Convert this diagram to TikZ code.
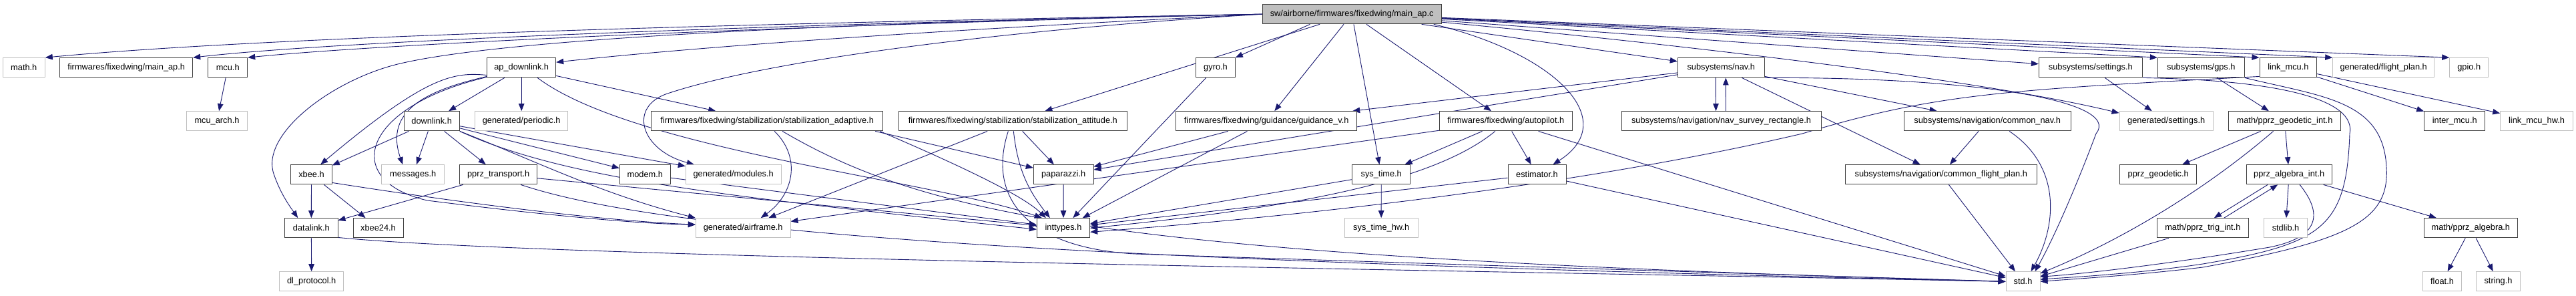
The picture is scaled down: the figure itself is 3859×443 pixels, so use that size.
\documentclass[tikz,border=0pt]{standalone}
\usepackage{fontspec}
\setmainfont{Liberation Sans}
\usetikzlibrary{arrows.meta,backgrounds}
\definecolor{edgec}{HTML}{191970}
\definecolor{darkb}{HTML}{404040}
\definecolor{lightb}{HTML}{BFBFBF}
\definecolor{rootf}{HTML}{BFBFBF}
\begin{document}
\begin{tikzpicture}[x=1pt,y=-1pt,
  box/.style={draw, fill=white, line width=1pt, minimum height=29.3pt, inner sep=0pt, font=\fontsize{12.8}{15}\selectfont, text=black},
  dk/.style={box, draw=darkb},
  lt/.style={box, draw=lightb},
  rt/.style={box, draw=darkb, fill=rootf},
  e/.style={draw=edgec, line width=0.9pt, -{Triangle[length=11pt,width=8.5pt]}}]
\useasboundingbox (0,0) rectangle (3859,443);
% row 0
\node[rt, minimum width=268.3pt] (root) at (2025.15,21.2) {sw/airborne/firmwares/fixedwing/main\_ap.c};
% row 1
\node[lt, minimum width=63pt] (math) at (35.8,101.3) {math.h};
\node[dk, minimum width=199pt] (mainaph) at (189.2,101.3) {firmwares/fixedwing/main\_ap.h};
\node[dk, minimum width=59pt] (mcu) at (341.2,101.3) {mcu.h};
\node[dk, minimum width=103pt] (apdl) at (781.2,101.3) {ap\_downlink.h};
\node[dk, minimum width=58.6pt] (gyro) at (1821,101.3) {gyro.h};
\node[dk, minimum width=130pt] (nav) at (2578.3,101.3) {subsystems/nav.h};
\node[dk, minimum width=155pt] (settings) at (3131.8,101.3) {subsystems/settings.h};
\node[dk, minimum width=130pt] (gps) at (3297.3,101.3) {subsystems/gps.h};
\node[dk, minimum width=85.7pt] (linkmcu) at (3427.85,101.3) {link\_mcu.h};
\node[lt, minimum width=152pt] (flightplan) at (3570.7,101.3) {generated/flight\_plan.h};
\node[lt, minimum width=58pt] (gpio) at (3698.7,101.3) {gpio.h};
% row 2
\node[lt, minimum width=91.4pt] (mcuarch) at (325,181.3) {mcu\_arch.h};
\node[dk, minimum width=83.3pt] (downlink) at (646.65,181.3) {downlink.h};
\node[lt, minimum width=139pt] (periodic) at (781.2,181.3) {generated/periodic.h};
\node[dk, minimum width=347pt] (stabad) at (1149.2,181.3) {firmwares/fixedwing/stabilization/stabilization\_adaptive.h};
\node[dk, minimum width=341.3pt] (stabatt) at (1517.35,181.3) {firmwares/fixedwing/stabilization/stabilization\_attitude.h};
\node[dk, minimum width=271pt] (guidv) at (1897.2,181.3) {firmwares/fixedwing/guidance/guidance\_v.h};
\node[dk, minimum width=199pt] (autopilot) at (2255.8,181.3) {firmwares/fixedwing/autopilot.h};
\node[dk, minimum width=299pt] (navsurvey) at (2578.5,181.3) {subsystems/navigation/nav\_survey\_rectangle.h};
\node[dk, minimum width=249.7pt] (commonnav) at (2977.15,181.3) {subsystems/navigation/common\_nav.h};
\node[lt, minimum width=140.3pt] (gensettings) at (3245.15,181.3) {generated/settings.h};
\node[dk, minimum width=168.4pt] (geoint) at (3422.5,181.3) {math/pprz\_geodetic\_int.h};
\node[dk, minimum width=91pt] (intermcu) at (3677.2,181.3) {inter\_mcu.h};
\node[lt, minimum width=108.6pt] (linkmcuhw) at (3800,181.3) {link\_mcu\_hw.h};
% row 3
\node[dk, minimum width=61.6pt] (xbee) at (466.5,261.3) {xbee.h};
\node[lt, minimum width=94pt] (messages) at (618.7,261.3) {messages.h};
\node[dk, minimum width=116pt] (pprztr) at (746.7,261.3) {pprz\_transport.h};
\node[dk, minimum width=76pt] (modem) at (966.3,261.3) {modem.h};
\node[lt, minimum width=142.7pt] (modules) at (1098.65,261.3) {generated/modules.h};
\node[dk, minimum width=89.7pt] (paparazzi) at (1593.15,261.3) {paparazzi.h};
\node[dk, minimum width=87pt] (systime) at (2069.2,261.3) {sys\_time.h};
\node[dk, minimum width=87pt] (estimator) at (2302.5,261.3) {estimator.h};
\node[dk, minimum width=287pt] (commonfp) at (2907.8,261.3) {subsystems/navigation/common\_flight\_plan.h};
\node[dk, minimum width=115pt] (geodetic) at (3233.2,261.3) {pprz\_geodetic.h};
\node[dk, minimum width=128.3pt] (algint) at (3429.15,261.3) {pprz\_algebra\_int.h};
% row 4
\node[dk, minimum width=79.3pt] (datalink) at (466.35,341.3) {datalink.h};
\node[dk, minimum width=75pt] (xbee24) at (566.5,341.3) {xbee24.h};
\node[lt, minimum width=141.7pt] (airframe) at (1113.15,341.3) {generated/airframe.h};
\node[dk, minimum width=79.4pt] (inttypes) at (1593,341.3) {inttypes.h};
\node[lt, minimum width=109.7pt] (systimehw) at (2069.15,341.3) {sys\_time\_hw.h};
\node[dk, minimum width=137.7pt] (trigint) at (3299.85,341.3) {math/pprz\_trig\_int.h};
\node[lt, minimum width=64.6pt] (stdlib) at (3424,341.3) {stdlib.h};
\node[dk, minimum width=140.7pt] (alg) at (3701.35,341.3) {math/pprz\_algebra.h};
% row 5
\node[lt, minimum width=96pt] (dlproto) at (466.7,421.3) {dl\_protocol.h};
\node[lt, minimum width=51pt] (std) at (3030.5,421.3) {std.h};
\node[lt, minimum width=57.6pt] (float) at (3658.5,421.3) {float.h};
\node[lt, minimum width=65.6pt] (string) at (3742.5,421.3) {string.h};

\begin{pgfonlayer}{background}
\fill[white] (0,0) rectangle (3859,443);
% ---- edges from root
\draw[e] (root.west) .. controls (1100,35) and (400,55) .. (math.north east);
\draw[e] (root.west) .. controls (1100,38) and (500,62) .. (mainaph.north east);
\draw[e] (root.west) .. controls (1100,40) and (550,68) .. (mcu.north east);
\draw[e] (root.west) .. controls (1300,50) and (1000,75) .. ([yshift=-7pt]apdl.north east);
\draw[e] (root.west) .. controls (1200,35) and (750,60) .. (600,95) .. controls (500,118) and (390,200) .. (410,260) .. controls (420,290) and (435,310) .. ([xshift=20pt]datalink.north west);
\draw[e] (root.west) .. controls (1500,45) and (1150,90) .. (1000,140) .. controls (940,160) and (960,225) .. ([xshift=13pt]modules.north west);
\draw[e] (root) -- (stabatt);
\draw[e] ([xshift=72pt]root.south west) -- (gyro.north east);
\draw[e] (root) -- (guidv);
\draw[e] (root) -- (systime);
\draw[e] (root) -- (autopilot);
\draw[e] ([xshift=-12pt]root.south east) .. controls (2330,80) and (2430,180) .. ([xshift=-20pt]estimator.north east);
\draw[e] (root) -- (nav);
\draw[e] (root) -- (settings);
\draw[e] ([yshift=-12pt]root.east) .. controls (2450,60) and (2950,115) .. ([yshift=-3pt]gensettings.north west);
\draw[e] (root) -- (gps.north west);
\draw[e] (root) -- (linkmcu.north west);
\draw[e] (root) -- (flightplan.north west);
\draw[e] (root) -- (gpio.north west);
% ---- mcu
\draw[e] (mcu) -- (mcuarch);
% ---- ap_downlink
\draw[e] (apdl) -- (downlink);
\draw[e] (apdl) -- (periodic);
\draw[e] ([yshift=4pt]apdl.south west) .. controls (680,108) and (640,112) .. ([xshift=45pt]xbee.north west);
\draw[e] ([yshift=2pt]apdl.south west) .. controls (640,135) and (575,165) .. ([xshift=32pt]messages.north west);
\draw[e] ([yshift=1pt]apdl.south west) .. controls (540,160) and (510,270) .. (640,300) .. controls (800,320) and (950,335) .. ([yshift=-10pt]airframe.north west);
\draw[e] ([yshift=3pt]apdl.south east) -- ([xshift=97pt]stabad.north west);
\draw[e] ([xshift=-28pt]apdl.south east) .. controls (950,225) and (1400,270) .. ([xshift=8pt]inttypes.north west);
% ---- downlink
\draw[e] (downlink) -- (xbee);
\draw[e] (downlink) -- (messages);
\draw[e] (downlink) -- (pprztr);
\draw[e] (downlink) -- (modem);
\draw[e] (downlink) -- (modules);
\draw[e] (downlink.south east) .. controls (800,240) and (900,290) .. (airframe.north west);
\draw[e] (downlink.south east) .. controls (850,270) and (1100,295) .. ([yshift=-2pt]inttypes.west);
% ---- xbee, datalink, transport, modem
\draw[e] (xbee) -- (datalink);
\draw[e] (xbee) -- (xbee24);
\draw[e] ([yshift=3pt]xbee.south east) .. controls (700,305) and (900,330) .. ([yshift=-10pt]airframe.north west);
\draw[e] (datalink) -- (dlproto);
\draw[e] ([yshift=1pt]datalink.south east) .. controls (800,385) and (2200,405) .. (std.west);
\draw[e] (pprztr) -- (datalink);
\draw[e] ([xshift=-25pt]pprztr.south east) .. controls (1000,350) and (1600,390) .. (std.west);
\draw[e] (pprztr) -- (inttypes);
\draw[e] (modem) -- (inttypes);
% ---- stabilization
\draw[e] ([xshift=-12pt]stabad.south east) -- ([yshift=-5pt]paparazzi.north west);
\draw[e] ([xshift=-5pt]stabad.south east) .. controls (1420,240) and (1530,290) .. ([xshift=14pt]inttypes.north west);
\draw[e] ([xshift=11pt]stabad.south) .. controls (1200,235) and (1190,290) .. ([xshift=98pt]airframe.north west);
\draw[e] ([xshift=23pt]stabad.south) .. controls (1400,330) and (1700,385) .. (std.west);
\draw[e] (stabatt) -- (paparazzi);
\draw[e] ([xshift=1pt]stabatt.south) .. controls (1525,260) and (1545,290) .. ([xshift=20pt]inttypes.north west);
\draw[e] (stabatt) -- (airframe);
\draw[e] ([xshift=-7pt]stabatt.south) .. controls (1480,290) and (1530,370) .. (1700,380) .. controls (2300,400) and (2800,415) .. (std.west);
\draw[e] (paparazzi) -- (inttypes);
\draw[e] (gyro) -- (inttypes);
\draw[e] (guidv) -- (paparazzi);
\draw[e] (guidv) -- (inttypes);
% ---- sys_time, autopilot, estimator
\draw[e] (systime) -- (inttypes);
\draw[e] (systime) -- (systimehw);
\draw[e] (autopilot) -- (systime);
\draw[e] (autopilot) -- (estimator);
\draw[e] ([xshift=-16pt]autopilot.south) .. controls (2150,270) and (1950,310) .. (inttypes.east);
\draw[e] (autopilot) -- (airframe);
\draw[e] (autopilot) -- (std);
\draw[e] (estimator) -- (inttypes);
\draw[e] (estimator) -- (std);
% ---- nav
\draw[e] ([xshift=-8pt]nav.south) -- ([xshift=-8pt]navsurvey.north);
\draw[e] ([xshift=7pt]navsurvey.north) -- ([xshift=7pt]nav.south);
\draw[e] (nav) -- (guidv);
\draw[e] (nav) -- (paparazzi);
\draw[e] (nav) -- (commonnav);
\draw[e] (nav) -- (commonfp);
\draw[e] (nav.south east) .. controls (2950,115) and (3180,150) .. (3140,200) .. controls (3110,280) and (3075,360) .. ([xshift=-8pt]std.north east);
\draw[e] (commonnav) -- (commonfp);
\draw[e] ([xshift=33pt]commonnav.south) .. controls (3090,250) and (3080,340) .. ([xshift=-14pt]std.north east);
\draw[e] (commonfp) -- (std);
% ---- settings, gps
\draw[e] (settings) -- (gensettings);
\draw[e] (settings.south east) .. controls (3420,120) and (3530,150) .. (3520,200) .. controls (3515,340) and (3480,365) .. (3300,395) .. controls (3200,410) and (3100,415) .. ([yshift=-12pt]std.north east);
\draw[e] (gps) -- (geoint);
\draw[e] (gps.south east) .. controls (3480,145) and (3570,150) .. (3575,250) .. controls (3580,330) and (3520,360) .. (3300,400) .. controls (3200,412) and (3100,418) .. (std.east);
\draw[e] (geoint) -- (geodetic);
\draw[e] (geoint) -- (algint);
\draw[e] ([xshift=-17pt]geoint.south) .. controls (3320,270) and (3200,350) .. ([yshift=-3pt]std.north east);
% ---- algebra
\draw[e] ([xshift=-32pt]algint.south) -- ([xshift=17pt]trigint.north);
\draw[e] ([xshift=32pt]trigint.north) -- ([xshift=-17pt]algint.south);
\draw[e] (algint) -- (stdlib);
\draw[e] (algint) -- (alg);
\draw[e] ([xshift=16pt]algint.south) .. controls (3480,320) and (3475,355) .. (3400,370) .. controls (3250,395) and (3120,410) .. ([yshift=-8pt]std.north east);
\draw[e] (trigint) -- (std);
\draw[e] (alg) -- (float);
\draw[e] (alg) -- (string);
% ---- link_mcu
\draw[e] (linkmcu) -- (intermcu);
\draw[e] (linkmcu) -- (linkmcuhw);
\draw[e] ([yshift=2pt]linkmcu.south west) .. controls (3000,135) and (2900,140) .. (2700,200) .. controls (2400,270) and (2000,320) .. ([yshift=-6pt]inttypes.east);
\end{pgfonlayer}
\end{tikzpicture}
\end{document}
